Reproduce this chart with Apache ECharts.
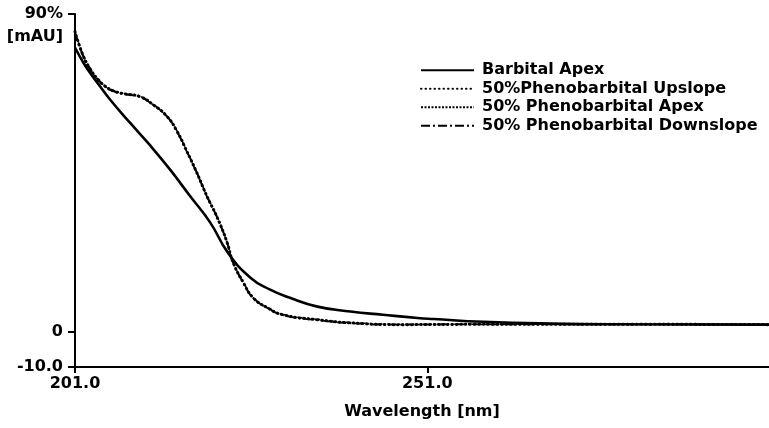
<!DOCTYPE html>
<html>
<head>
<meta charset="utf-8">
<script src="https://cdn.jsdelivr.net/npm/echarts@6/dist/echarts.min.js"></script>
<style>
  html, body { margin: 0; padding: 0; background: #fff; }
  #box { width: 769px; height: 428px; }
</style>
</head>
<body>
<div id="box"></div>
<script>
// wavelength (nm) / absorbance values
let barbitalX = [201, 202.1, 203.1, 204.6, 206, 208.8, 211.7, 214.5, 217.3, 220.2, 222.7, 225.9, 228.7, 231.5, 235.4, 240.1, 244.7, 249.6, 251.9, 259, 268.5, 280, 299.5];
let barbitalApex = [80.5, 76.5, 73.4, 69.4, 65.7, 59.2, 52.7, 45.9, 38.5, 30.9, 22.4, 15.3, 11.9, 9.6, 7.1, 5.7, 4.8, 3.9, 3.6, 2.8, 2.3, 2.1, 2.0];

let phenoX = [201, 202.1, 203.1, 204.2, 205.3, 206.6, 208, 210.2, 212.1, 214.1, 215.5, 216.9, 218.3, 219.7, 221.2, 222.6, 223.4, 224.9, 226.3, 228.3, 230.5, 235.4, 240.1, 247.2, 260, 280, 299.5];
let phenoUpslope = [85.0, 78.5, 74.6, 71.6, 69.5, 68.1, 67.4, 66.6, 64.3, 60.9, 56.7, 51.0, 45.0, 38.5, 32.3, 25.2, 19.8, 13.9, 9.6, 6.8, 4.8, 3.4, 2.5, 2.0, 2.1, 2.1, 2.0];
let phenoApex = [85.2, 78.7, 74.8, 71.7, 69.6, 68.2, 67.5, 66.7, 64.4, 61.0, 56.8, 51.1, 45.1, 38.6, 32.4, 25.3, 19.9, 14.0, 9.7, 6.9, 4.9, 3.5, 2.6, 2.1, 2.1, 2.1, 2.0];
let phenoDownslope = [84.8, 78.3, 74.4, 71.5, 69.4, 68.0, 67.3, 66.5, 64.2, 60.8, 56.6, 50.9, 44.9, 38.4, 32.2, 25.1, 19.7, 13.8, 9.5, 6.7, 4.7, 3.3, 2.4, 2.0, 2.1, 2.1, 2.0];

let xTicks = [201, 251];
let yTicks = [-10, 0, 90];
let seriesNames = ["Barbital Apex", "50%Phenobarbital Upslope", "50% Phenobarbital Apex", "50% Phenobarbital Downslope"];

function pairs(xs, ys) {
  return xs.map((x, i) => [x, ys[i]]);
}

let font = "DejaVu Sans";
let chart = echarts.init(document.getElementById("box"), null, { renderer: "canvas" });

let lineBase = { type: "line", smooth: 0.5, symbol: "none", animation: false };

let option = {
  backgroundColor: "#fff",
  grid: { left: 75, right: 0, top: 14, bottom: 61, outerBoundsMode: "none" },
  legend: {
    orient: "vertical",
    left: 415,
    top: 56,
    itemWidth: 53,
    itemHeight: 12,
    itemGap: 0,
    data: seriesNames,
    itemStyle: { opacity: 0 },
    textStyle: { fontFamily: font, fontWeight: "bold", fontSize: 16, lineHeight: 18.5, color: "#000", padding: [0, 0, 0, 3] }
  },
  xAxis: {
    type: "value",
    min: 201,
    max: 299.5,
    name: "Wavelength [nm]",
    nameLocation: "middle",
    nameGap: 37,
    nameTextStyle: { fontFamily: font, fontWeight: "bold", fontSize: 16, color: "#000" },
    splitLine: { show: false },
    axisLine: { onZero: false, lineStyle: { color: "#000", width: 2 } },
    axisTick: { customValues: xTicks, length: 6, lineStyle: { color: "#000", width: 2 } },
    axisLabel: {
      customValues: xTicks,
      margin: 9,
      fontFamily: font,
      fontWeight: "bold",
      fontSize: 16,
      color: "#000",
      formatter: v => v.toFixed(1)
    }
  },
  yAxis: {
    type: "value",
    min: -10,
    max: 90,
    splitLine: { show: false },
    axisLine: { show: true, onZero: false, lineStyle: { color: "#000", width: 2 } },
    axisTick: { show: true, customValues: yTicks, length: 7, lineStyle: { color: "#000", width: 2 } },
    axisLabel: {
      customValues: yTicks,
      margin: 12,
      fontFamily: font,
      fontWeight: "bold",
      fontSize: 16,
      color: "#000",
      formatter: v => {
        if (v === 90) return "{u| }\n{u|90%}\n{u|[mAU]}";
        if (v === -10) return "-10.0";
        return String(v);
      },
      rich: {
        u: { fontFamily: font, fontWeight: "bold", fontSize: 16, color: "#000", lineHeight: 23, align: "right" }
      }
    }
  },
  series: [
    Object.assign({}, lineBase, {
      name: seriesNames[0],
      data: pairs(barbitalX, barbitalApex),
      itemStyle: { color: "#000" },
      lineStyle: { color: "#000", width: 2.6, type: "solid" },
      z: 3
    }),
    Object.assign({}, lineBase, {
      name: seriesNames[1],
      data: pairs(phenoX, phenoUpslope),
      itemStyle: { color: "#000" },
      lineStyle: { color: "#000", width: 3, type: [0.5, 4], cap: "round" },
      z: 4
    }),
    Object.assign({}, lineBase, {
      name: seriesNames[2],
      data: pairs(phenoX, phenoApex),
      itemStyle: { color: "#000" },
      lineStyle: { color: "#000", width: 1.6, type: [2, 1.5] },
      z: 2
    }),
    Object.assign({}, lineBase, {
      name: seriesNames[3],
      data: pairs(phenoX, phenoDownslope),
      itemStyle: { color: "#000" },
      lineStyle: { color: "#000", width: 1.8, type: [9, 3, 2, 3] },
      z: 2
    })
  ]
};

chart.setOption(option);
</script>
</body>
</html>
